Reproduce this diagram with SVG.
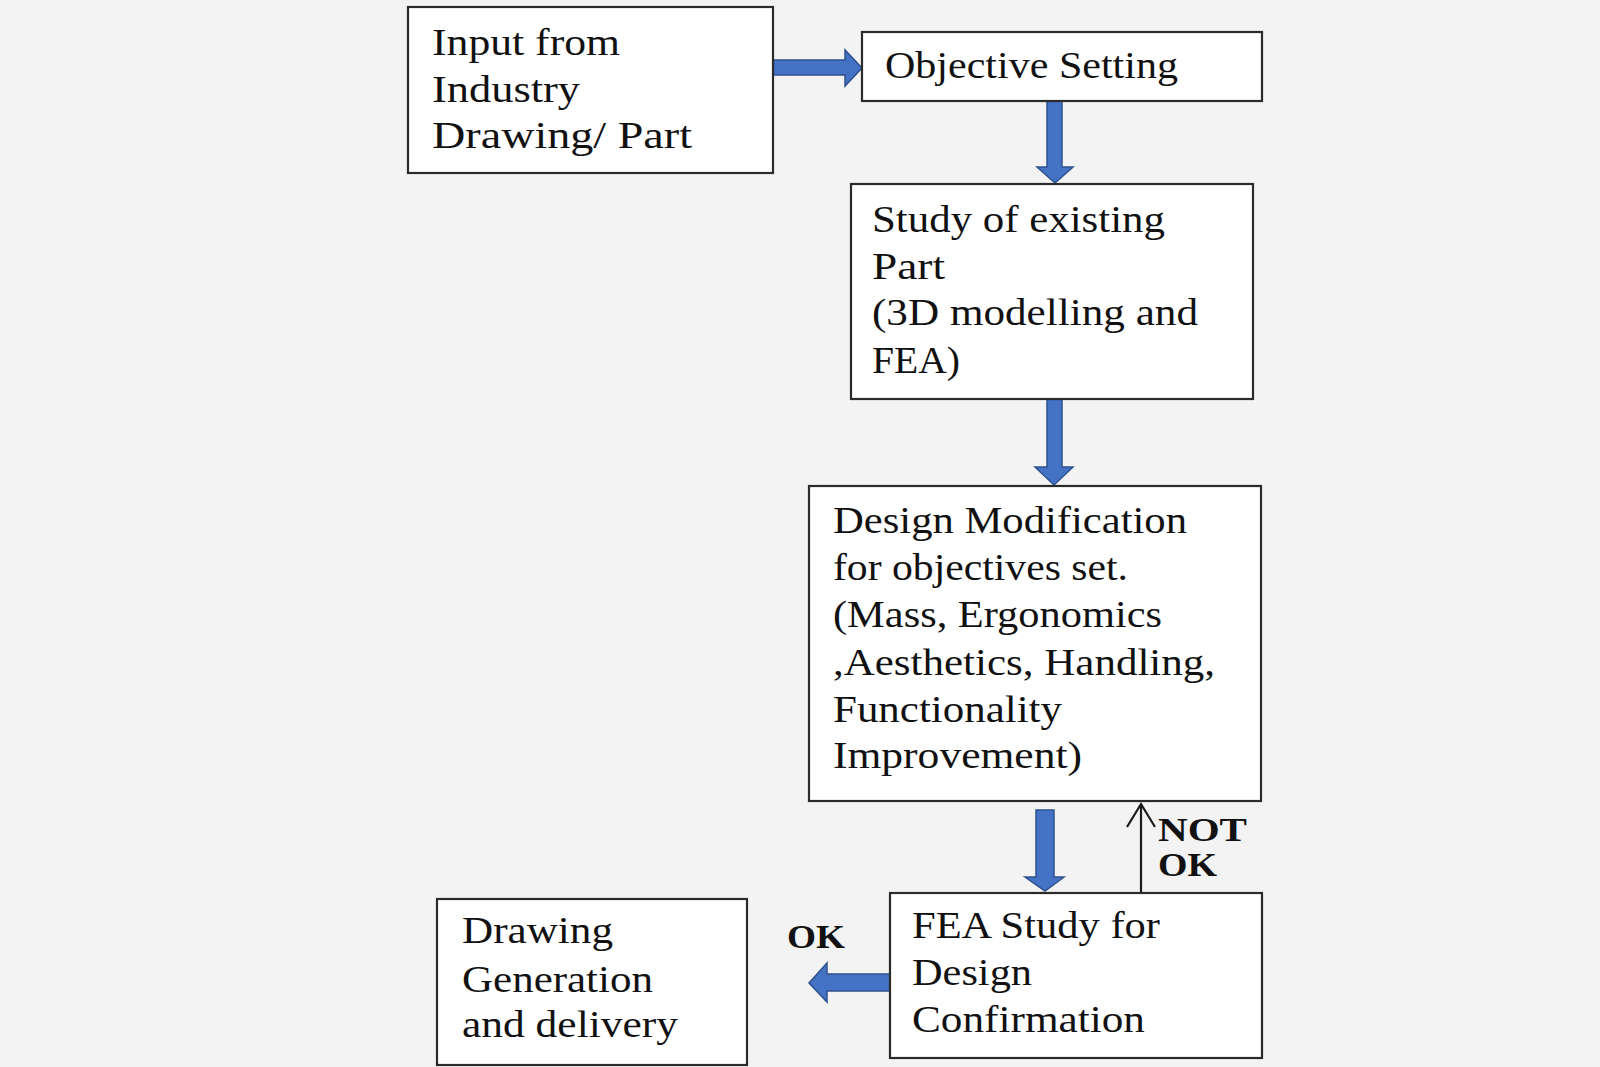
<svg xmlns="http://www.w3.org/2000/svg" width="1600" height="1067" viewBox="0 0 1600 1067">
<defs>
<style>
.box{fill:#ffffff;stroke:#2b2b2b;stroke-width:2.2}
.t{font-family:"Liberation Serif","Times New Roman",serif;font-size:38px;fill:#111}
.lbl{font-family:"Liberation Serif","Times New Roman",serif;font-size:34px;font-weight:bold;fill:#111}
.blk{fill:#4472C4;stroke:#2F528F;stroke-width:1.5;stroke-linejoin:miter}
.thin{fill:none;stroke:#1a1a1a;stroke-width:2.2}
</style>
</defs>
<rect x="0" y="0" width="1600" height="1067" fill="#f3f3f3"/>
<g id="connectors">
<polygon class="blk" points="773,60 845,60 845,50 862,68 845,86 845,75 773,75"/>
<polygon class="blk" points="1047,101 1062,101 1062,167 1073,167 1055,183 1037,167 1047,167"/>
<polygon class="blk" points="1047,399 1062,399 1062,467 1073,467 1054,485 1035,467 1047,467"/>
<polygon class="blk" points="1036,810 1054,810 1054,877 1064,877 1045,891 1025,877 1036,877"/>
<polygon class="blk" points="890,974 827,974 827,963 809,983 827,1002 827,991 890,991"/>
<line class="thin" x1="1141" y1="893" x2="1141" y2="804"/>
<polyline class="thin" points="1127,827 1141,804 1155,827"/>
<text class="lbl" x="1158" y="841" textLength="89" lengthAdjust="spacingAndGlyphs">NOT</text>
<text class="lbl" x="1158" y="876" textLength="59" lengthAdjust="spacingAndGlyphs">OK</text>
<text class="lbl" x="787" y="948" textLength="58" lengthAdjust="spacingAndGlyphs">OK</text>
</g>
<g id="input">
<rect class="box" x="408" y="7" width="365" height="166"/>
<text class="t" x="432" y="55" textLength="188" lengthAdjust="spacingAndGlyphs">Input from</text>
<text class="t" x="432" y="102" textLength="148" lengthAdjust="spacingAndGlyphs">Industry</text>
<text class="t" x="432" y="148" textLength="260" lengthAdjust="spacingAndGlyphs">Drawing/ Part</text>
</g>
<g id="objective">
<rect class="box" x="862" y="32" width="400" height="69"/>
<text class="t" x="885" y="78" textLength="293" lengthAdjust="spacingAndGlyphs">Objective Setting</text>
</g>
<g id="study">
<rect class="box" x="851" y="184" width="402" height="215"/>
<text class="t" x="872" y="232" textLength="293" lengthAdjust="spacingAndGlyphs">Study of existing</text>
<text class="t" x="872" y="279" textLength="73" lengthAdjust="spacingAndGlyphs">Part</text>
<text class="t" x="872" y="325" textLength="326" lengthAdjust="spacingAndGlyphs">(3D modelling and</text>
<text class="t" x="872" y="373" textLength="88" lengthAdjust="spacingAndGlyphs">FEA)</text>
</g>
<g id="design">
<rect class="box" x="809" y="486" width="452" height="315"/>
<text class="t" x="833" y="533" textLength="354" lengthAdjust="spacingAndGlyphs">Design Modification</text>
<text class="t" x="833" y="580" textLength="295" lengthAdjust="spacingAndGlyphs">for objectives set.</text>
<text class="t" x="833" y="627" textLength="329" lengthAdjust="spacingAndGlyphs">(Mass, Ergonomics</text>
<text class="t" x="833" y="675" textLength="382" lengthAdjust="spacingAndGlyphs">,Aesthetics, Handling,</text>
<text class="t" x="833" y="722" textLength="229" lengthAdjust="spacingAndGlyphs">Functionality</text>
<text class="t" x="833" y="768" textLength="249" lengthAdjust="spacingAndGlyphs">Improvement)</text>
</g>
<g id="fea">
<rect class="box" x="890" y="893" width="372" height="165"/>
<text class="t" x="912" y="938" textLength="248" lengthAdjust="spacingAndGlyphs">FEA Study for</text>
<text class="t" x="912" y="985" textLength="120" lengthAdjust="spacingAndGlyphs">Design</text>
<text class="t" x="912" y="1032" textLength="233" lengthAdjust="spacingAndGlyphs">Confirmation</text>
</g>
<g id="drawing">
<rect class="box" x="437" y="899" width="310" height="166"/>
<text class="t" x="462" y="943" textLength="151" lengthAdjust="spacingAndGlyphs">Drawing</text>
<text class="t" x="462" y="992" textLength="191" lengthAdjust="spacingAndGlyphs">Generation</text>
<text class="t" x="462" y="1037" textLength="216" lengthAdjust="spacingAndGlyphs">and delivery</text>
</g>
</svg>
